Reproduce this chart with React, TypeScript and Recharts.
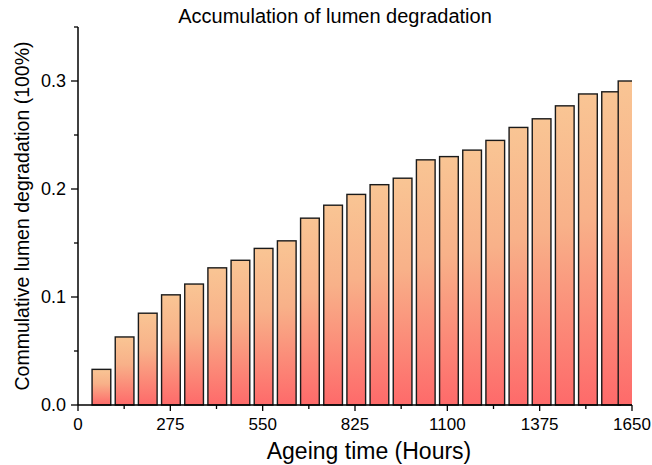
import React from 'react';
import { BarChart, Bar, XAxis, YAxis } from 'recharts';

const hours = [70, 139, 208, 277, 346, 415, 484, 553, 622, 691, 760, 829, 898, 967, 1036, 1105, 1174, 1243, 1312, 1381, 1450, 1519, 1588, 1637];
const degradation = [0.033, 0.063, 0.085, 0.102, 0.112, 0.127, 0.134, 0.145, 0.152, 0.173, 0.185, 0.195, 0.204, 0.21, 0.227, 0.23, 0.236, 0.245, 0.257, 0.265, 0.277, 0.288, 0.29, 0.3];
const xTicks = [0, 137.5, 275, 412.5, 550, 687.5, 825, 962.5, 1100, 1237.5, 1375, 1512.5, 1650];
const yTicks = [0, 0.05, 0.1, 0.15, 0.2, 0.25, 0.3, 0.35];

const data = hours.map((h, i) => ({ x: h, y: degradation[i] }));

const FONT = '"Liberation Sans", Arial, sans-serif';
const BAR_W = 18.7;

const XTick = (props: any) => {
  const { x, y, payload } = props;
  const v = payload.value as number;
  const major = Math.abs(v / 275 - Math.round(v / 275)) < 1e-6;
  return (
    <g>
      <line x1={x} x2={x} y1={y} y2={y + (major ? 6 : 4)} stroke="#000" strokeWidth={1.3} />
      {major && (
        <text x={x} y={y + 25} textAnchor="middle" fontSize={17} fontFamily={FONT} fill="#000">
          {v}
        </text>
      )}
    </g>
  );
};

const YTick = (props: any) => {
  const { x, y, payload } = props;
  const v = payload.value as number;
  const major = Math.abs(v * 10 - Math.round(v * 10)) < 1e-6;
  return (
    <g>
      <line x1={x - (major ? 7 : 4)} x2={x} y1={y} y2={y} stroke="#000" strokeWidth={1.3} />
      {major && (
        <text x={x - 12} y={y} dy="0.36em" textAnchor="end" fontSize={18} fontFamily={FONT} fill="#000">
          {v.toFixed(1)}
        </text>
      )}
    </g>
  );
};

const BarShape = (props: any) => {
  const { x, y, width, height } = props;
  const cx = x + width / 2;
  return (
    <rect
      x={cx - BAR_W / 2}
      y={y}
      width={BAR_W}
      height={height}
      fill="url(#barGrad)"
      stroke="#1a1a1a"
      strokeWidth={1.4}
    />
  );
};

export default function App() {
  return (
    <div style={{ position: 'absolute', left: 0, top: 0, width: 652, height: 465, background: '#fff' }}>
      <BarChart width={652} height={465} data={data} margin={{ top: 27, right: 20, bottom: 0, left: 0 }}>
        <defs>
          <linearGradient id="barGrad" x1="0" y1="0" x2="0" y2="1">
            <stop offset="0%" stopColor="#F9C594" />
            <stop offset="40%" stopColor="#F8B189" />
            <stop offset="100%" stopColor="#FE6A6A" />
          </linearGradient>
        </defs>
        <XAxis
          dataKey="x"
          type="number"
          domain={[0, 1650]}
          ticks={xTicks}
          interval={0}
          allowDataOverflow
          height={60}
          tickSize={0}
          tickMargin={0}
          tick={<XTick />}
          axisLine={{ stroke: '#000', strokeWidth: 1.5 }}
          tickLine={false}
        />
        <YAxis
          type="number"
          domain={[0, 0.35]}
          ticks={yTicks}
          interval={0}
          width={78}
          tickSize={0}
          tickMargin={0}
          tick={<YTick />}
          axisLine={{ stroke: '#000', strokeWidth: 1.5 }}
          tickLine={false}
        />
        <Bar dataKey="y" shape={<BarShape />} isAnimationActive={false} />
        <text x={335} y={23} textAnchor="middle" fontSize={20} fontFamily={FONT} fill="#000">
          Accumulation of lumen degradation
        </text>
        <text x={369} y={459} textAnchor="middle" fontSize={23} fontFamily={FONT} fill="#000">
          Ageing time (Hours)
        </text>
        <text
          x={22}
          y={216}
          textAnchor="middle"
          dominantBaseline="central"
          transform="rotate(-90, 22, 216)"
          fontSize={19.5}
          fontFamily={FONT}
          fill="#000"
        >
          Commulative lumen degradation (100%)
        </text>
      </BarChart>
    </div>
  );
}
